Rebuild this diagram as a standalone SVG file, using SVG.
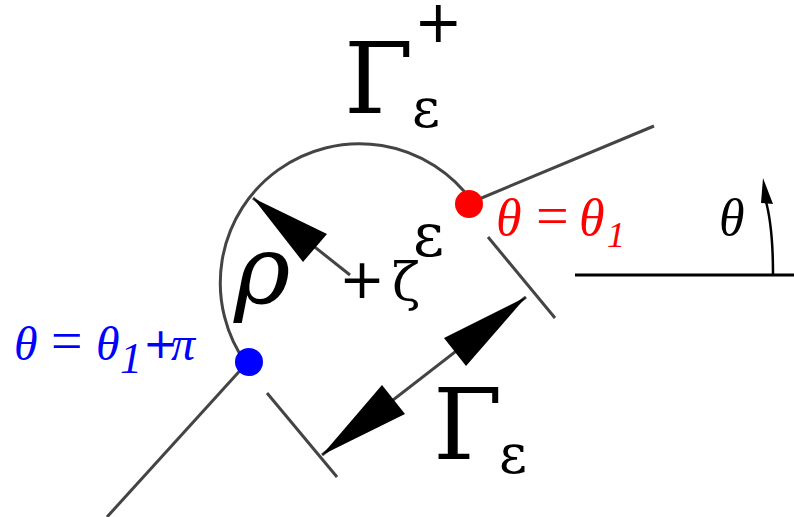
<svg xmlns="http://www.w3.org/2000/svg" width="794" height="517" viewBox="0 0 794 517">
<style>
.g{stroke:#444;stroke-width:3;fill:none}
.k{fill:#000}
.lt{font-family:"Liberation Serif","Times New Roman",serif}
.dv{font-family:"DejaVu Serif",serif}
.ds{font-family:"DejaVu Sans",sans-serif}
.it{font-style:italic}
</style>
<rect width="794" height="517" fill="#fff"/>
<g id="contour">
<path class="g" d="M246.4,363.9 A139,139 0 1 1 472.3,201.7"/>
<line class="g" x1="472" y1="202" x2="654" y2="126"/>
<line class="g" x1="246" y1="364" x2="107" y2="517"/>
</g>
<g id="connectors">
<line class="g" x1="253" y1="198" x2="350" y2="275"/>
<polygon class="k" points="253,198 303,262 327,234"/>
<line class="g" x1="488" y1="237" x2="555" y2="318"/>
<line class="g" x1="267" y1="393" x2="337" y2="477"/>
<line class="g" x1="322" y1="455" x2="526" y2="297"/>
<polygon class="k" points="322,455 405,414 382,385"/>
<polygon class="k" points="526,297 466,366 444,338"/>
</g>
<g id="points">
<circle cx="469" cy="204" r="14" fill="#f00"/>
<circle cx="249" cy="362" r="14" fill="#00f"/>
</g>
<g id="labels">
<text class="dv" x="344" y="113" font-size="100">Γ</text>
<text class="dv" x="412" y="127" font-size="54">ε</text>
<text class="ds" x="414" y="42" font-size="58">+</text>
<text class="dv" x="433" y="459" font-size="100">Γ</text>
<text class="dv" x="499" y="473" font-size="54">ε</text>
<text class="dv it" x="234" y="303" font-size="96">ρ</text>
<text class="ds" x="339" y="298" font-size="55">+</text>
<text class="dv" x="392" y="300" font-size="52">ζ</text>
<text class="dv" x="413" y="256" font-size="60">ε</text>
<text class="lt it" fill="#f00" y="235" font-size="52"><tspan x="496">θ</tspan><tspan x="536" font-style="normal" font-size="58">=</tspan><tspan x="579">θ</tspan><tspan x="607" y="247" font-size="36">1</tspan></text>
<text class="lt it" fill="#00f" y="360" font-size="48"><tspan x="14">θ</tspan><tspan x="51" font-style="normal" font-size="56">=</tspan><tspan x="96">θ</tspan><tspan x="120" y="373" font-size="44">1</tspan></text>
<text class="ds" fill="#00f" x="143" y="358" font-size="42">+</text>
<text class="lt it" fill="#00f" x="171" y="360" font-size="48">π</text>
<text class="lt it" x="719" y="235" font-size="52">θ</text>
</g>
<g id="angle">
<line x1="575" y1="275" x2="794" y2="275" stroke="#000" stroke-width="3"/>
<path d="M773,274 Q773,225 765,198" stroke="#000" stroke-width="2.5" fill="none"/>
<polygon class="k" points="763,178 773,204 761,203"/>
</g>
</svg>
